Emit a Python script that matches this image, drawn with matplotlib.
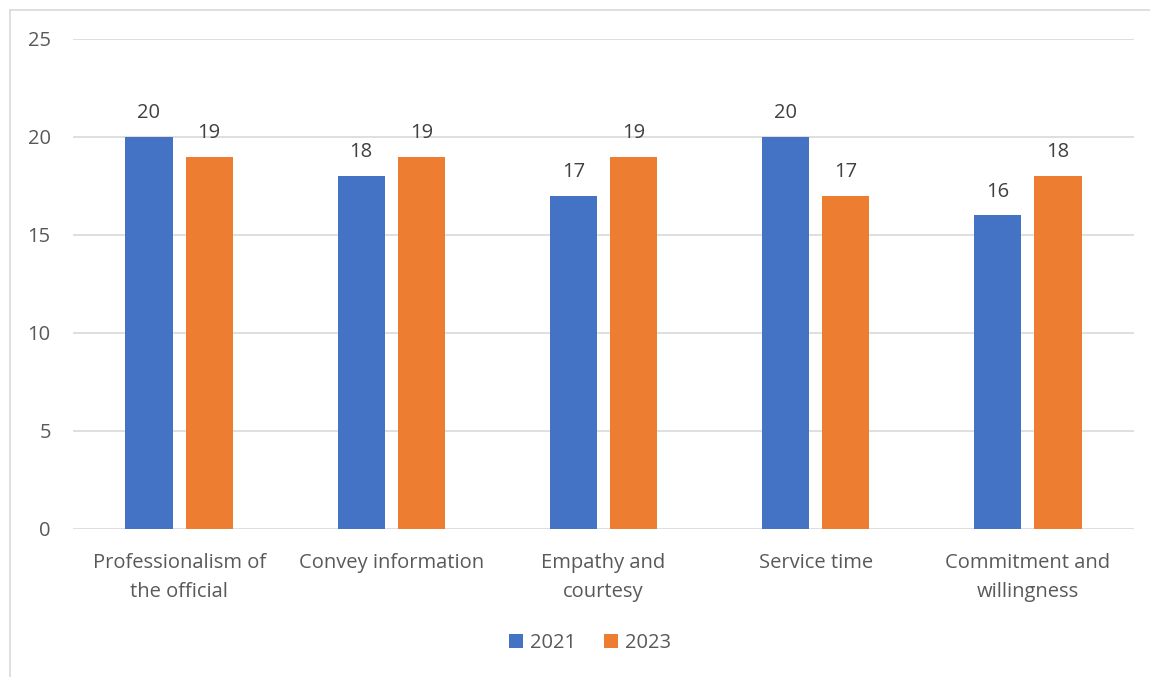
import matplotlib
matplotlib.use("Agg")
import matplotlib.pyplot as plt
from matplotlib.lines import Line2D
import numpy as np

categories = ["Professionalism of\nthe official", "Convey information",
              "Empathy and\ncourtesy", "Service time", "Commitment and\nwillingness"]
years = ["2021", "2023"]
values_2021 = [20, 18, 17, 20, 16]
values_2023 = [19, 19, 19, 17, 18]
y_ticks = [0, 5, 10, 15, 20, 25]

blue = "#4472C4"
orange = "#ED7D31"
text_grey = "#595959"
fs = 14.5

plt.rcParams["font.family"] = ["Open Sans", "DejaVu Sans"]

W, H = 1150, 677
fig = plt.figure(figsize=(W / 100, H / 100), dpi=100)
ax = fig.add_axes([73 / W, (H - 529) / H, (1134 - 73) / W, (529 - 39) / H])

x = np.arange(len(categories))
bw = 0.222
off = 0.142
b1 = ax.bar(x - off, values_2021, bw, color=blue, label=years[0], zorder=3)
b2 = ax.bar(x + off, values_2023, bw, color=orange, label=years[1], zorder=3)

for bars in (b1, b2):
    ax.bar_label(bars, padding=10, fontsize=fs, color="#404040")

ax.set_xlim(-0.5, len(categories) - 0.5)
ax.set_ylim(0, 25)
ax.set_yticks(y_ticks)
ax.set_xticks(x)
ax.set_xticklabels(categories, linespacing=1.6)
ax.tick_params(axis="y", length=0, pad=16, labelsize=fs, labelcolor=text_grey)
ax.tick_params(axis="x", length=0, pad=17, labelsize=fs, labelcolor=text_grey)
ax.grid(axis="y", color="#D9D9D9", linewidth=1.2, zorder=0)
for s in ax.spines.values():
    s.set_visible(False)

ax.legend(loc="center", bbox_to_anchor=(590 / W, (H - 643) / H),
          bbox_transform=fig.transFigure, ncol=2, frameon=False,
          fontsize=fs, labelcolor=text_grey, handlelength=0.7,
          handleheight=0.7, handletextpad=0.35, columnspacing=1.4)

# chart area border (top and left edges)
fig.add_artist(Line2D([10 / W, 1.0], [1 - 10 / H, 1 - 10 / H],
                      transform=fig.transFigure, color="#D9D9D9", linewidth=1.2))
fig.add_artist(Line2D([10 / W, 10 / W], [0, 1 - 10 / H],
                      transform=fig.transFigure, color="#D9D9D9", linewidth=1.2))

fig.savefig("out.png", dpi=100)
